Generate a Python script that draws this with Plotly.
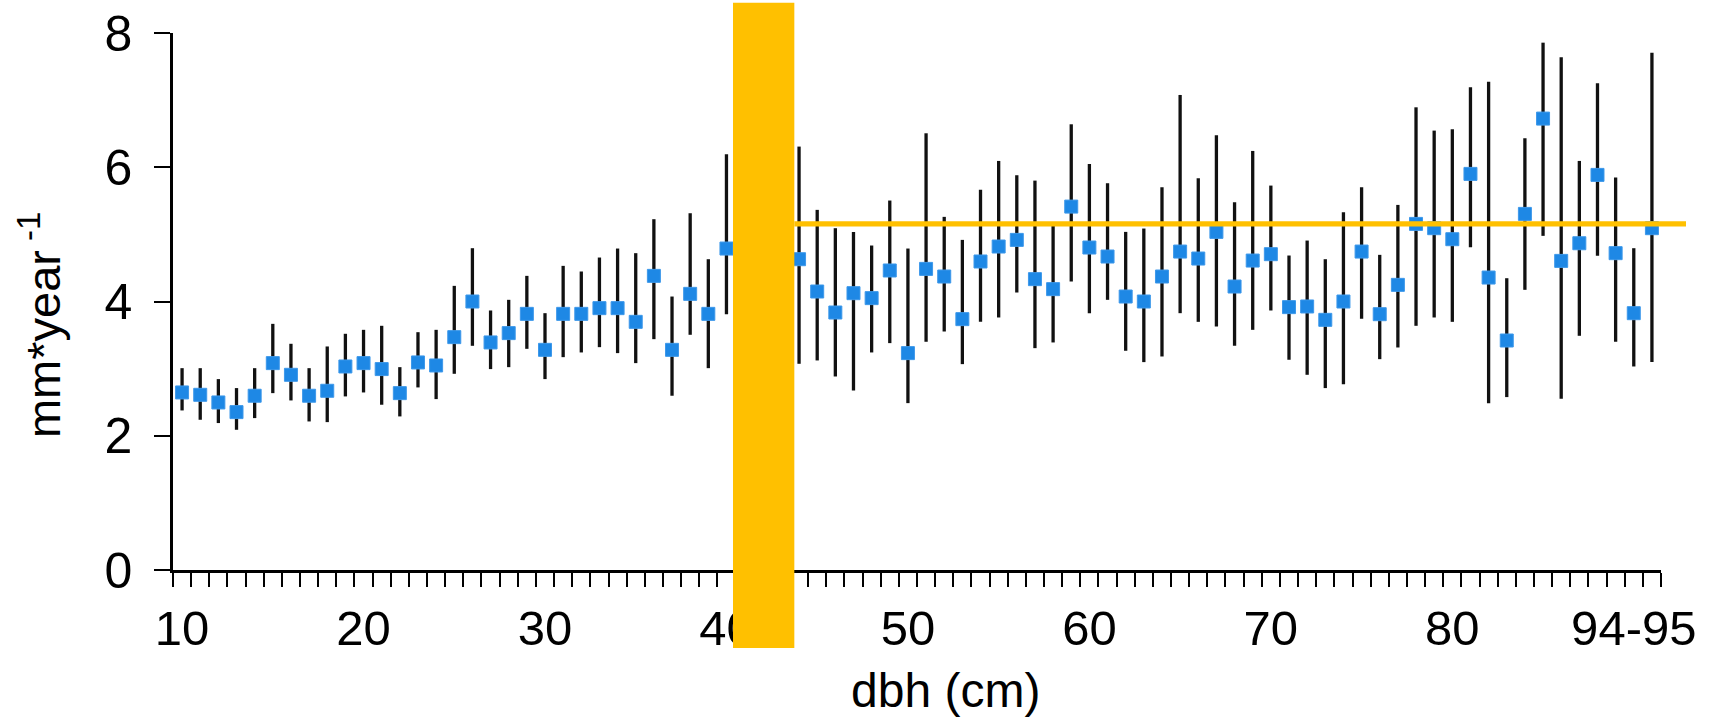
import plotly.graph_objects as go

# ---- data ----
# category index along the dbh axis (82 dbh classes)
dbh_index = list(range(82))
tick_positions = [0, 10, 20, 30, 40, 50, 60, 70, 80]
tick_labels = ["10", "20", "30", "40", "50", "60", "70", "80", "94-95"]

growth_mean = [
    2.645, 2.61, 2.496, 2.352, 2.596, 3.082, 2.908, 2.596, 2.670, 3.032,
    3.082, 2.993, 2.635, 3.092, 3.047, 3.469, 4.00, 3.390, 3.529, 3.816,
    3.280, 3.816, 3.816, 3.901, 3.901, 3.697, 4.382, 3.280, 4.114, 3.816,
    4.789, 4.60, 4.40, 4.70, 4.630, 4.149, 3.836, 4.124, 4.050, 4.462,
    3.231, 4.486, 4.372, 3.737, 4.596, 4.819, 4.918, 4.333, 4.184, 5.414,
    4.804, 4.670, 4.074, 4.00, 4.372, 4.744, 4.640, 5.037, 4.223, 4.610,
    4.705, 3.916, 3.926, 3.727, 4.00, 4.744, 3.811, 4.248, 5.156, 5.092,
    4.928, 5.901, 4.357, 3.419, 5.305, 6.725, 4.605, 4.868, 5.886, 4.720,
    3.826, 5.092,
]
bar_top = [
    3.007, 3.007, 2.844, 2.710, 3.007, 3.667, 3.370, 3.007, 3.330, 3.519,
    3.578, 3.638, 3.022, 3.543, 3.578, 4.233, 4.794, 3.866, 4.025, 4.382,
    3.826, 4.531, 4.447, 4.655, 4.789, 4.720, 5.226, 4.074, 5.315, 4.630,
    6.194, 5.60, 5.30, 5.80, 6.308, 5.365, 5.092, 5.037, 4.834, 5.504,
    4.789, 6.506, 5.261, 4.918, 5.663, 6.094, 5.881, 5.801, 5.15, 6.640,
    6.050, 5.762, 5.037, 5.087, 5.702, 7.077, 5.836, 6.476, 5.479, 6.243,
    5.727, 4.685, 4.908, 4.630, 5.330, 5.702, 4.695, 5.439, 6.893, 6.546,
    6.566, 7.191, 7.275, 4.347, 6.432, 7.856, 7.638, 6.094, 7.251, 5.846,
    4.794, 7.707,
]
bar_bottom = [
    2.377, 2.238, 2.189, 2.089, 2.263, 2.635, 2.526, 2.213, 2.203, 2.586,
    2.645, 2.462, 2.288, 2.720, 2.546, 2.923, 3.340, 2.993, 3.022, 3.295,
    2.844, 3.171, 3.241, 3.320, 3.231, 3.082, 3.439, 2.596, 3.504, 3.007,
    3.811, 3.60, 3.50, 3.60, 3.072, 3.122, 2.883, 2.675, 3.241, 3.380,
    2.486, 3.400, 3.553, 3.067, 3.697, 3.762, 4.134, 3.305, 3.390, 4.298,
    3.826, 4.025, 3.266, 3.097, 3.181, 3.826, 3.697, 3.628, 3.340, 3.578,
    3.866, 3.132, 2.908, 2.710, 2.769, 3.742, 3.141, 3.315, 3.638, 3.762,
    3.697, 4.809, 2.486, 2.576, 4.174, 4.978, 2.551, 3.489, 4.680, 3.400,
    3.032, 3.097,
]

# highlight overlay (category-index span) and reference level
highlight_span = (30.36, 33.74)
reference_level = 5.156

# ---- figure ----
n_cat = len(dbh_index)
x_range = [-0.5, n_cat - 0.5]
y_range = [0, 8]

err_plus = [t - m for t, m in zip(bar_top, growth_mean)]
err_minus = [m - b for m, b in zip(growth_mean, bar_bottom)]

fig = go.Figure()
fig.add_trace(go.Scatter(
    x=dbh_index, y=growth_mean, mode="markers",
    marker=dict(symbol="square", size=13, color="#1E88E5",
                line=dict(width=1, color="#3D98EA")),
    error_y=dict(type="data", symmetric=False, array=err_plus,
                 arrayminus=err_minus, color="#111111", thickness=3.3, width=0),
    showlegend=False,
))

def to_paper_x(v):
    return (v - x_range[0]) / (x_range[1] - x_range[0])

def to_paper_y(v):
    return (v - y_range[0]) / (y_range[1] - y_range[0])

fig.add_shape(type="rect", xref="paper", yref="paper",
              x0=to_paper_x(highlight_span[0]), x1=to_paper_x(highlight_span[1]),
              y0=-0.1453, y1=1.0565,
              fillcolor="#FFC000", line=dict(width=0), layer="above")
fig.add_shape(type="line", xref="paper", yref="paper",
              x0=to_paper_x(highlight_span[1]), x1=1.0168,
              y0=to_paper_y(reference_level), y1=to_paper_y(reference_level),
              line=dict(color="#FFC000", width=5.3), layer="above")

font_family = "Liberation Sans, Arial, sans-serif"

fig.update_layout(
    width=1713, height=724,
    margin=dict(l=173, r=52, t=33, b=154, pad=0, autoexpand=False),
    paper_bgcolor="white", plot_bgcolor="white",
    font=dict(family=font_family, color="black"),
    xaxis=dict(
        range=x_range, showgrid=False, zeroline=False, automargin=False,
        showline=True, linecolor="black", linewidth=2.6,
        tickmode="array", tickvals=tick_positions, ticktext=tick_labels,
        ticks="", tickfont=dict(size=49, family=font_family, color="black"),
        ticklabelstandoff=13,
        minor=dict(tickmode="linear", tick0=-0.5, dtick=1, ticks="outside",
                   ticklen=14, tickwidth=2.4, tickcolor="black", showgrid=False),
    ),
    yaxis=dict(
        range=y_range, showgrid=False, zeroline=False, automargin=False,
        showline=True, linecolor="black", linewidth=2.6,
        tickmode="array", tickvals=[0, 2, 4, 6, 8],
        ticks="outside", ticklen=16, tickwidth=2.4, tickcolor="black",
        tickfont=dict(size=50, family=font_family, color="black"),
        ticklabelstandoff=12,
    ),
    annotations=[
        dict(text="dbh (cm)", xref="paper", yref="paper", x=0.519, y=-0.224,
             xanchor="center", yanchor="middle", showarrow=False,
             font=dict(size=48, family=font_family, color="black")),
        dict(text="mm*year<sup> -1</sup>", xref="paper", yref="paper",
             x=-0.0894, y=0.456, xanchor="center", yanchor="middle",
             textangle=-90, showarrow=False,
             font=dict(size=47, family=font_family, color="black")),
    ],
)

fig.write_html("out.html",
               config={"displayModeBar": False},
               post_script="document.body.style.margin='0';"
                           "document.body.style.padding='0';")
